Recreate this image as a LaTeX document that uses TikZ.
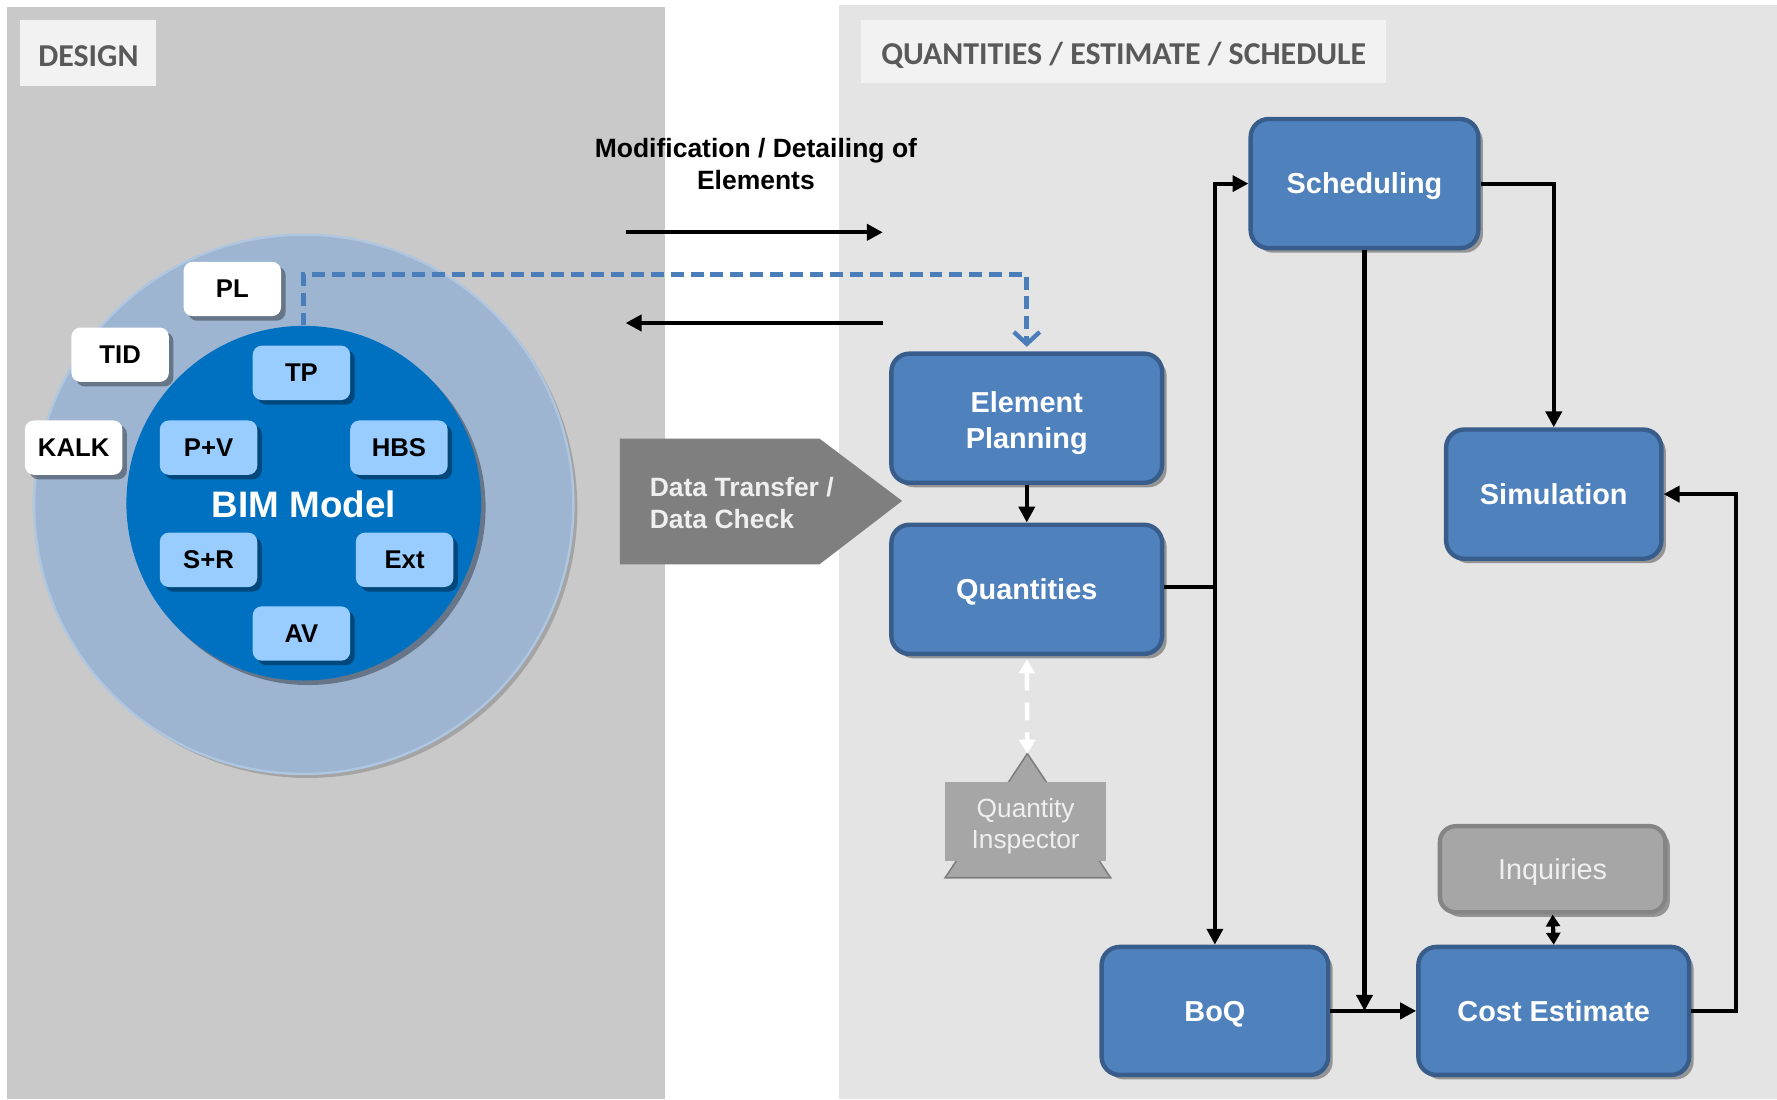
\documentclass[tikz,border=0pt]{standalone}
\usepackage{fontspec}
\setmainfont{Liberation Sans}
\newfontfamily\headfont{Carlito}
\usetikzlibrary{arrows.meta,shadows,calc}
\definecolor{designbg}{HTML}{C9C9C9}
\definecolor{qbg}{HTML}{E4E4E4}
\definecolor{headfill}{HTML}{F2F2F2}
\definecolor{headtext}{HTML}{595959}
\definecolor{outerc}{HTML}{9DB5D1}
\definecolor{outerrim}{HTML}{AFC6E0}
\definecolor{innerc}{HTML}{0070C0}
\definecolor{smallc}{HTML}{99CCFF}
\definecolor{boxfill}{HTML}{4F81BD}
\definecolor{boxdraw}{HTML}{385D8A}
\definecolor{dashc}{HTML}{4A7EBB}
\definecolor{pentc}{HTML}{7F7F7F}
\definecolor{inqfill}{HTML}{A6A6A6}
\definecolor{inqdraw}{HTML}{858585}
\definecolor{lighttext}{HTML}{EFEFEF}
\tikzset{
  shad/.style={drop shadow={shadow xshift=0.08cm, shadow yshift=-0.08cm, opacity=0.35, fill=black}},
  softshad/.style={drop shadow={shadow xshift=0.07cm, shadow yshift=-0.07cm, opacity=0.18, fill=black}},
  headbox/.style={fill=headfill, text=headtext, font=\headfont\bfseries\fontsize{16}{19}\selectfont, inner sep=0pt, text height=0.46cm, text depth=0cm},
  smallbox/.style={shad, fill=smallc, rounded corners=0.16cm, minimum width=1.72cm, minimum height=0.96cm, font=\bfseries\fontsize{12.9}{15}\selectfont, inner sep=0pt},
  whitebox/.style={smallbox, fill=white},
  bluebox/.style={shad, fill=boxfill, draw=boxdraw, line width=2.2pt, rounded corners=0.32cm, minimum height=2.28cm, text=white, align=center, font=\bfseries\fontsize{14.5}{18}\selectfont, inner sep=0pt, text height=0.366cm, text depth=0cm},
  boxtext/.style={text=white, align=center, font=\bfseries\fontsize{14.5}{18}\selectfont, inner sep=0pt},
  conn/.style={line width=2.1pt, -{Triangle[length=8pt,width=8pt]}},
  plainline/.style={line width=2.1pt},
}
\begin{document}
\begin{tikzpicture}[x=0.02cm,y=-0.02cm]
\useasboundingbox (0,0) rectangle (1568,970);
\fill[white] (0,0) rectangle (1568,970);
\fill[designbg] (6,6) rectangle (587,970);
\fill[qbg] (740,4) rectangle (1568,970);

% headers
\node[headbox, minimum width=2.4cm, minimum height=1.16cm] (hdesign) at (78,47) {DESIGN};
\node[headbox, minimum width=9.26cm, minimum height=1.1cm] (hquant) at (991.5,45.5) {QUANTITIES / ESTIMATE / SCHEDULE};

% BIM model circles
\node[softshad, circle, fill=outerc, draw=outerrim, line width=1.2pt, minimum size=9.52cm, inner sep=0pt] (outer) at (268,445) {};
\node[shad, circle, fill=innerc, minimum size=6.26cm, inner sep=0pt] (inner) at (268,444) {};
\node[text=white, font=\bfseries\fontsize{18.5}{22}\selectfont] (bim) at (268,445) {BIM Model};

\node[smallbox] (tp) at (266,329) {TP};
\node[smallbox] (pv) at (184,395) {P+V};
\node[smallbox] (hbs) at (352,395) {HBS};
\node[smallbox] (sr) at (184,494) {S+R};
\node[smallbox] (ext) at (357,494) {Ext};
\node[smallbox] (av) at (266,559) {AV};

\node[whitebox] (pl) at (205,255) {PL};
\node[whitebox] (tid) at (106,313) {TID};
\node[whitebox] (kalk) at (65,395) {KALK};

% modification arrows
\node[align=center, font=\bfseries\fontsize{13.3}{15.9}\selectfont] (modt) at (667,145) {Modification / Detailing of\\Elements};
\coordinate (m1s) at (552,205);
\coordinate (m1e) at (779,205);
\coordinate (m2s) at (779,285);
\coordinate (m2e) at (552,285);
\draw[conn] (m1s) -- (m1e);
\draw[conn] (m2s) -- (m2e);

% data transfer pentagon
\fill[pentc] (547,387) -- (723,387) -- (796,442) -- (723,498) -- (547,498) -- cycle;
\node[anchor=west, align=left, text=lighttext, font=\bfseries\fontsize{13.3}{15.9}\selectfont, inner sep=0pt] (dt) at (573,444) {Data Transfer /\\Data Check};

% blue boxes
\node[bluebox, minimum width=4.78cm] (ep) at (906,369) {};
\node[boxtext] (eptext) at (906,373) {Element\\Planning};
\node[bluebox, minimum width=4.78cm] (q) at (906,520) {Quantities};
\node[bluebox, minimum width=4.02cm] (sch) at (1204,162) {Scheduling};
\node[bluebox, minimum width=3.8cm] (sim) at (1371,436) {Simulation};
\node[bluebox, minimum width=4.0cm, minimum height=2.26cm] (bq) at (1072,892) {BoQ};
\node[bluebox, minimum width=4.78cm, minimum height=2.26cm] (ce) at (1371,892) {Cost Estimate};
\node[shad, fill=inqfill, draw=inqdraw, line width=2.2pt, rounded corners=0.28cm, minimum width=3.98cm, minimum height=1.52cm, text=lighttext, font=\fontsize{14.5}{17}\selectfont, inner sep=0pt, text height=0.366cm, text depth=0cm] (inq) at (1370,767) {Inquiries};

% quantity inspector
\coordinate (qiapex) at (906.5,665);
\filldraw[fill=inqfill, draw=pentc, line width=0.8pt] (qiapex) -- (980,774.5) -- (834,774.5) -- cycle;
\fill[inqfill] (834,690) rectangle (976,759.5);
\node[align=center, text=lighttext, font=\fontsize{13.2}{15.9}\selectfont] (qi) at (905,729) {Quantity\\Inspector};

% dashed blue connector
\coordinate (dj1) at (268,242);
\coordinate (dj2) at (906,242);
\draw[dashc, line width=2.4pt, dash pattern=on 6.5pt off 3.5pt, -{Straight Barb[length=6pt,width=13pt,line width=2.2pt]}] (inner.north) -- (dj1) -- (dj2) -- ($(ep.north)+(0,-4)$);

% white dashed
\draw[white, line width=2.2pt, dash pattern=on 9pt off 6pt, {Triangle[length=7pt,width=8pt]}-{Triangle[length=7pt,width=8pt]}] ($(q.south)+(0,3)$) -- (qiapex);

% connectors
\draw[conn] (ep.south) -- (q.north);
\coordinate (qjoin) at (1072,518);
\draw[plainline] (q.east |- qjoin) -- (qjoin);
\draw[conn] (qjoin) -- (bq.north);
\draw[conn] (qjoin) |- (sch.west);
\draw[conn] (sch.east) -| (sim.north);
\draw[conn] (sch.south) -- (sch.south |- ce.west);
\draw[conn] (bq.east) -- (ce.west);
\coordinate (rc) at (1532,436);
\draw[conn] (ce.east) -| (rc) -- (sim.east);
\draw[line width=2.1pt, {Triangle[length=6pt,width=7pt]}-{Triangle[length=6pt,width=7pt]}] (inq.south) -- (ce.north);
\end{tikzpicture}
\end{document}
